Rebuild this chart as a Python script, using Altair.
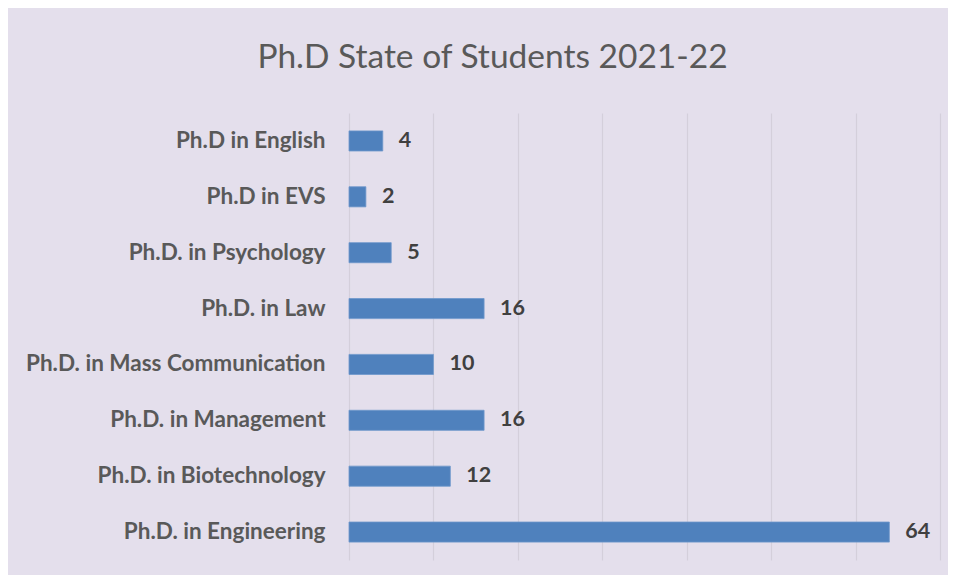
import altair as alt
import pandas as pd

categories = [
    "Ph.D in English",
    "Ph.D in EVS",
    "Ph.D. in Psychology",
    "Ph.D. in Law",
    "Ph.D. in Mass Communication",
    "Ph.D. in Management",
    "Ph.D. in Biotechnology",
    "Ph.D. in Engineering",
]
values = [4, 2, 5, 16, 10, 16, 12, 64]
x_ticks = [0, 10, 20, 30, 40, 50, 60, 70]

df = pd.DataFrame({"program": categories, "students": values})

FONT = "Lato"
BG = "#E4DFEC"

y_enc = alt.Y(
    "program:N",
    sort=categories,
    scale=alt.Scale(paddingInner=0.64, paddingOuter=0.32),
    axis=alt.Axis(
        title=None,
        ticks=False,
        domain=False,
        grid=False,
        labelFont=FONT,
        labelFontSize=22.5,
        labelFontWeight="bold",
        labelColor="#595959",
        labelPadding=24,
        labelLimit=400,
    ),
)
x_enc = alt.X(
    "students:Q",
    scale=alt.Scale(domain=[0, 70], nice=False),
    axis=alt.Axis(
        title=None,
        labels=False,
        ticks=False,
        domain=False,
        grid=True,
        values=x_ticks,
        gridColor="#D4CFDB",
        gridWidth=1.2,
    ),
)

base = alt.Chart(df)
bars = base.mark_bar(color="#4F81BD", stroke="#6F98CC", strokeWidth=0.8).encode(
    x=x_enc, y=y_enc
)
labels = base.mark_text(
    align="left",
    baseline="middle",
    dx=16,
    font=FONT,
    fontSize=21.5,
    fontWeight="bold",
    color="#404040",
).encode(x="students:Q", y=alt.Y("program:N", sort=categories), text="students:Q")

chart = (
    alt.layer(bars, labels)
    .properties(
        width=591,
        height=447,
        background=BG,
        autosize=alt.AutoSizeParams(type="none"),
        padding={"left": 341, "top": 105, "right": 8, "bottom": 15},
        title=alt.TitleParams(
            text="Ph.D State of Students 2021-22",
            font=FONT,
            fontSize=33.5,
            fontWeight="normal",
            color="#595959",
            anchor="middle",
            dx=-152,
            baseline="alphabetic",
            offset=12,
        ),
    )
    .configure_view(stroke=None)
)

chart.save("out.html", embed_options={"renderer": "svg", "actions": False})
